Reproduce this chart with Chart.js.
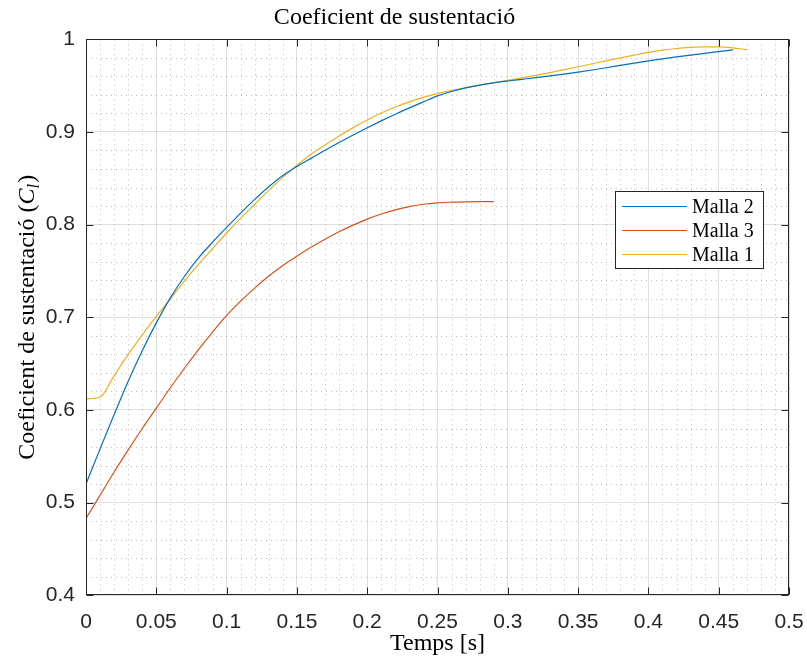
<!DOCTYPE html>
<html>
<head>
<meta charset="utf-8">
<script src="https://cdn.jsdelivr.net/npm/chart.js@4.4.1/dist/chart.umd.min.js"></script>
<style>
  html, body { margin: 0; padding: 0; background: #ffffff; }
  #wrap { width: 807px; height: 664px; position: relative; }
</style>
</head>
<body>
<div id="wrap"><canvas id="c" width="807" height="664"></canvas></div>
<script>
// ---------------- data ----------------
const chartTitle = 'Coeficient de sustentació';
const xAxisTitle = 'Temps [s]';
const yAxisTitleMain = 'Coeficient de sustentació (';
const yAxisTitleSym = 'C';
const yAxisTitleSub = 'l';
const yAxisTitleEnd = ')';

const xTickValues = [0, 0.05, 0.1, 0.15, 0.2, 0.25, 0.3, 0.35, 0.4, 0.45, 0.5];
const xTickLabels = ['0', '0.05', '0.1', '0.15', '0.2', '0.25', '0.3', '0.35', '0.4', '0.45', '0.5'];
const yTickValues = [0.4, 0.5, 0.6, 0.7, 0.8, 0.9, 1];
const yTickLabels = ['0.4', '0.5', '0.6', '0.7', '0.8', '0.9', '1'];
const xMinorStep = 0.01;
const yMinorStep = 0.02;

const seriesNames = ['Malla 2', 'Malla 3', 'Malla 1'];
const seriesColors = ['#0072BD', '#D95319', '#EDB120'];

const tMalla2 = [0,0.01,0.02,0.03,0.04,0.05,0.06,0.07,0.08,0.09,0.10,0.11,0.12,0.13,0.14,0.15,0.16,0.17,0.18,0.19,0.20,0.21,0.22,0.23,0.24,0.25,0.26,0.27,0.28,0.29,0.30,0.31,0.32,0.33,0.34,0.35,0.36,0.37,0.38,0.39,0.40,0.41,0.42,0.43,0.44,0.45,0.46];
const clMalla2 = [0.520,0.558,0.595,0.631,0.664,0.694,0.721,0.744,0.764,0.781,0.797,0.8125,0.8273,0.8408,0.853,0.8627,0.8715,0.8802,0.8886,0.8967,0.9045,0.912,0.9192,0.926,0.9325,0.939,0.9437,0.9475,0.9505,0.953,0.955,0.9568,0.9586,0.9605,0.9625,0.9646,0.9669,0.9693,0.9718,0.9743,0.9767,0.9789,0.981,0.983,0.9849,0.9867,0.9885];

const tMalla3 = [0,0.01,0.02,0.03,0.04,0.05,0.06,0.07,0.08,0.09,0.10,0.11,0.12,0.13,0.14,0.15,0.16,0.17,0.18,0.19,0.20,0.21,0.22,0.23,0.24,0.25,0.26,0.27,0.28,0.29];
const clMalla3 = [0.483,0.508,0.533,0.557,0.580,0.602,0.624,0.645,0.665,0.684,0.702,0.7175,0.7315,0.7445,0.756,0.766,0.7755,0.7843,0.7923,0.7995,0.806,0.8115,0.816,0.8195,0.822,0.8235,0.8242,0.8246,0.8248,0.8248];

const tMalla1 = [0,0.01,0.02,0.03,0.04,0.05,0.06,0.07,0.08,0.09,0.10,0.11,0.12,0.13,0.14,0.15,0.16,0.17,0.18,0.19,0.20,0.21,0.22,0.23,0.24,0.25,0.26,0.27,0.28,0.29,0.30,0.31,0.32,0.33,0.34,0.35,0.36,0.37,0.38,0.39,0.40,0.41,0.42,0.43,0.44,0.45,0.46,0.47];
const clMalla1 = [0.612,0.614,0.637,0.660,0.681,0.701,0.720,0.739,0.757,0.774,0.791,0.807,0.822,0.837,0.851,0.864,0.876,0.886,0.8957,0.9047,0.913,0.9205,0.927,0.9325,0.9373,0.9413,0.9448,0.9478,0.9506,0.9532,0.9557,0.9583,0.9611,0.9641,0.9672,0.9704,0.9736,0.9768,0.9799,0.9829,0.9858,0.9883,0.9901,0.9912,0.9918,0.9918,0.9908,0.9888];

// ---------------- helpers ----------------
function toPoints(ts, vs) { return ts.map((t, i) => ({ x: t, y: vs[i] })); }

const AXIS_COLOR = '#262626';
const SERIF = '"Liberation Serif", "Times New Roman", serif';
const SANS = '"Liberation Sans", Arial, Helvetica, sans-serif';

const minorGridPlugin = {
  id: 'minorGrid',
  beforeDatasetsDraw(chart) {
    const { ctx, chartArea: a, scales: { x, y } } = chart;
    ctx.save();
    ctx.strokeStyle = 'rgba(38,38,38,0.30)';
    ctx.lineWidth = 1;
    ctx.setLineDash([1, 4]);
    const nx = Math.round((x.max - x.min) / xMinorStep);
    for (let i = 1; i < nx; i++) {
      const v = x.min + i * xMinorStep;
      if (Math.abs(v / 0.05 - Math.round(v / 0.05)) < 1e-6) continue;
      const px = Math.round(x.getPixelForValue(v)) + 0.5;
      ctx.beginPath(); ctx.moveTo(px, a.top); ctx.lineTo(px, a.bottom); ctx.stroke();
    }
    const ny = Math.round((y.max - y.min) / yMinorStep);
    for (let i = 1; i < ny; i++) {
      const v = y.min + i * yMinorStep;
      if (Math.abs(v / 0.1 - Math.round(v / 0.1)) < 1e-6) continue;
      const py = Math.round(y.getPixelForValue(v)) + 0.5;
      ctx.beginPath(); ctx.moveTo(a.left, py); ctx.lineTo(a.right, py); ctx.stroke();
    }
    ctx.restore();
  }
};

const frameLegendPlugin = {
  id: 'frameLegend',
  afterDraw(chart) {
    const { ctx, chartArea: a, scales: { x, y } } = chart;
    ctx.save();
    ctx.strokeStyle = AXIS_COLOR;
    ctx.lineWidth = 1;
    ctx.setLineDash([]);
    const L = Math.round(a.left) + 0.5, R = Math.round(a.right) - 0.5;
    const T = Math.round(a.top) + 0.5, B = Math.round(a.bottom) - 0.5;
    ctx.strokeRect(L, T, R - L, B - T);
    const tl = 7;
    x.ticks.forEach(tk => {
      const px = Math.round(x.getPixelForValue(tk.value)) + 0.5;
      ctx.beginPath();
      ctx.moveTo(px, B); ctx.lineTo(px, B - tl);
      ctx.moveTo(px, T); ctx.lineTo(px, T + tl);
      ctx.stroke();
    });
    y.ticks.forEach(tk => {
      const py = Math.round(y.getPixelForValue(tk.value)) + 0.5;
      ctx.beginPath();
      ctx.moveTo(L, py); ctx.lineTo(L + tl, py);
      ctx.moveTo(R, py); ctx.lineTo(R - tl, py);
      ctx.stroke();
    });

    // legend
    const lx = 615.5, ly = 191.5, lw = 148, lh = 77;
    ctx.fillStyle = '#ffffff';
    ctx.fillRect(lx, ly, lw, lh);
    ctx.strokeStyle = AXIS_COLOR;
    ctx.strokeRect(lx, ly, lw, lh);
    ctx.font = '20px ' + SERIF;
    ctx.textBaseline = 'alphabetic';
    ctx.textAlign = 'left';
    chart.data.datasets.forEach((ds, i) => {
      const cy = 206 + i * 24;
      ctx.strokeStyle = ds.borderColor;
      ctx.lineWidth = 1.2;
      ctx.beginPath(); ctx.moveTo(622, cy + 0.5); ctx.lineTo(687, cy + 0.5); ctx.stroke();
      ctx.fillStyle = '#000000';
      ctx.fillText(ds.label, 692, cy + 6.5);
    });

    // y axis title (rich text)
    const cyT = (a.top + a.bottom) / 2;
    ctx.translate(34, cyT);
    ctx.rotate(-Math.PI / 2);
    const fMain = '24px ' + SERIF;
    const fIt = 'italic 24px ' + SERIF;
    const fSub = 'italic 17px ' + SERIF;
    ctx.font = fMain; const w1 = ctx.measureText(yAxisTitleMain).width;
    ctx.font = fIt; const w2 = ctx.measureText(yAxisTitleSym).width;
    ctx.font = fSub; const w3 = ctx.measureText(yAxisTitleSub).width;
    ctx.font = fMain; const w4 = ctx.measureText(yAxisTitleEnd).width;
    let sx = -(w1 + w2 + w3 + w4 + 1) / 2;
    ctx.fillStyle = '#000000';
    ctx.textAlign = 'left';
    ctx.textBaseline = 'alphabetic';
    ctx.font = fMain; ctx.fillText(yAxisTitleMain, sx, 0); sx += w1;
    ctx.font = fIt; ctx.fillText(yAxisTitleSym, sx, 0); sx += w2;
    ctx.font = fSub; ctx.fillText(yAxisTitleSub, sx, 5); sx += w3 + 1;
    ctx.font = fMain; ctx.fillText(yAxisTitleEnd, sx, 0);
    ctx.restore();
  }
};

const datasets = [
  { label: seriesNames[0], data: toPoints(tMalla2, clMalla2), borderColor: seriesColors[0] },
  { label: seriesNames[1], data: toPoints(tMalla3, clMalla3), borderColor: seriesColors[1] },
  { label: seriesNames[2], data: toPoints(tMalla1, clMalla1), borderColor: seriesColors[2] }
].map(d => Object.assign(d, {
  backgroundColor: d.borderColor,
  borderWidth: 1.2,
  pointRadius: 0,
  fill: false,
  cubicInterpolationMode: 'monotone'
}));

new Chart(document.getElementById('c'), {
  type: 'line',
  data: { datasets },
  plugins: [minorGridPlugin, frameLegendPlugin],
  options: {
    responsive: false,
    animation: false,
    devicePixelRatio: 1,
    layout: { padding: { left: 0, right: 18, top: 0, bottom: 0 } },
    plugins: {
      legend: { display: false },
      tooltip: { enabled: false },
      title: {
        display: true,
        text: chartTitle,
        color: '#000000',
        font: { family: SERIF, size: 24, weight: 'normal', lineHeight: 1.2 },
        padding: { top: 3.6, bottom: 6.9 }
      }
    },
    scales: {
      x: {
        type: 'linear',
        min: 0, max: 0.5,
        afterBuildTicks(s) { s.ticks = xTickValues.map(v => ({ value: v })); },
        afterFit(s) { s.height = 68.7; s.paddingLeft = 0; s.paddingRight = 0; },
        ticks: {
          color: AXIS_COLOR,
          font: { family: SANS, size: 21 },
          padding: 14,
          maxRotation: 0,
          autoSkip: false,
          callback(v) { const i = xTickValues.findIndex(t => Math.abs(t - v) < 1e-9); return i >= 0 ? xTickLabels[i] : ''; }
        },
        grid: { color: 'rgba(38,38,38,0.15)', lineWidth: 1, drawTicks: false },
        border: { display: false },
        title: {
          display: true,
          text: xAxisTitle,
          color: '#000000',
          font: { family: SERIF, size: 24, lineHeight: 1.2 },
          padding: { top: 0, bottom: 5.6 }
        }
      },
      y: {
        type: 'linear',
        min: 0.4, max: 1,
        afterBuildTicks(s) { s.ticks = yTickValues.map(v => ({ value: v })); },
        afterFit(s) { s.width = 86; },
        ticks: {
          color: AXIS_COLOR,
          font: { family: SANS, size: 21 },
          padding: 11,
          autoSkip: false,
          callback(v) { const i = yTickValues.findIndex(t => Math.abs(t - v) < 1e-9); return i >= 0 ? yTickLabels[i] : ''; }
        },
        grid: { color: 'rgba(38,38,38,0.15)', lineWidth: 1, drawTicks: false },
        border: { display: false }
      }
    }
  }
});
</script>
</body>
</html>
